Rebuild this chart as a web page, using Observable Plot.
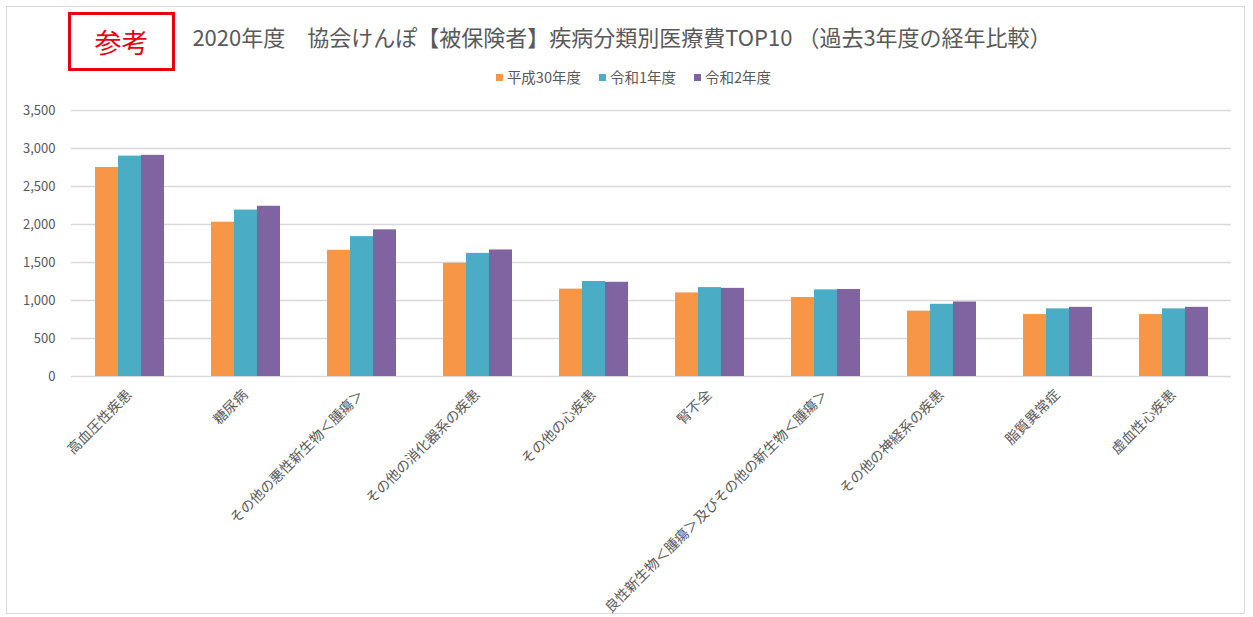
<!DOCTYPE html>
<html>
<head>
<meta charset="utf-8">
<script src="https://cdn.jsdelivr.net/npm/d3@7"></script>
<script src="https://cdn.jsdelivr.net/npm/@observablehq/plot@0.6"></script>
<style>
  html, body { margin: 0; padding: 0; background: #fff; }
  body { width: 1253px; height: 617px; position: relative; overflow: hidden;
         font-family: "Noto Sans CJK JP", "Noto Sans", sans-serif; }
  #frame { position: absolute; left: 6px; top: 6px; width: 1239px; height: 608px;
           border: 1px solid #d9d9d9; box-sizing: border-box; }
  #badge { position: absolute; left: 68px; top: 12px; width: 107px; height: 59px;
           border: 3px solid #e60012; box-sizing: border-box; color: #e60012;
           font-size: 27px; line-height: 53px; text-align: center; }
  #title { position: absolute; left: 182px; top: 21px; width: 880px; text-align: center;
           font-size: 22px; color: #595959; white-space: pre; line-height: 30px; }
  #legend { position: absolute; left: 0; top: 68px; width: 1253px; text-align: center;
            font-size: 14.5px; color: #595959; line-height: 18px; padding-left: 14px; box-sizing: border-box; }
  #legend span.item { display: inline-block; margin: 0 9px; }
  #legend span.sw { display: inline-block; width: 7px; height: 7px; margin-right: 4px; vertical-align: 2px; }
  #chart { position: absolute; left: 0; top: 90px; }
  #chart svg g[aria-label^="fx-axis"] text { font-size: 14px; }
</style>
</head>
<body>
<div id="frame"></div>
<div id="badge">参考</div>
<div id="title"></div>
<div id="legend"></div>
<div id="chart"></div>
<script>
const titleText = "2020年度　協会けんぽ【被保険者】疾病分類別医療費TOP10 （過去3年度の経年比較）";
const badgeText = "参考";
const categories = [
  "高血圧性疾患",
  "糖尿病",
  "その他の悪性新生物＜腫瘍＞",
  "その他の消化器系の疾患",
  "その他の心疾患",
  "腎不全",
  "良性新生物＜腫瘍＞及びその他の新生物＜腫瘍＞",
  "その他の神経系の疾患",
  "脂質異常症",
  "虚血性心疾患"
];
const seriesNames = ["平成30年度", "令和1年度", "令和2年度"];
const valuesH30 = [2750, 2030, 1660, 1490, 1150, 1100, 1040, 860, 815, 815];
const valuesR1  = [2900, 2190, 1840, 1620, 1250, 1170, 1140, 950, 890, 890];
const valuesR2  = [2910, 2240, 1930, 1665, 1240, 1160, 1145, 980, 910, 910];
const seriesColors = ["#F79646", "#4BACC6", "#8064A2"];
const yTicks = [0, 500, 1000, 1500, 2000, 2500, 3000, 3500];

document.getElementById("title").textContent = titleText;
document.getElementById("badge").textContent = badgeText;

const legend = document.getElementById("legend");
seriesNames.forEach((s, i) => {
  const item = document.createElement("span");
  item.className = "item";
  const sw = document.createElement("span");
  sw.className = "sw";
  sw.style.background = seriesColors[i];
  item.appendChild(sw);
  item.appendChild(document.createTextNode(s));
  legend.appendChild(item);
});

const allSeries = [valuesH30, valuesR1, valuesR2];
const data = [];
categories.forEach((c, ci) => {
  seriesNames.forEach((s, si) => {
    data.push({category: c, series: s, value: allSeries[si][ci]});
  });
});

const chart = Plot.plot({
  width: 1253,
  height: 527,
  marginTop: 20,
  marginBottom: 241,
  marginLeft: 68,
  marginRight: 19,
  style: {
    fontFamily: "'Noto Sans CJK JP', 'Noto Sans', sans-serif",
    fontSize: "13px",
    color: "#595959",
    background: "transparent"
  },
  fx: {domain: categories, padding: 0, label: null, axis: "bottom",
       tickRotate: -45, tickSize: 0, tickPadding: 16},
  x: {domain: seriesNames, axis: null, paddingInner: 0, paddingOuter: 1.0},
  y: {domain: [0, 3500], ticks: yTicks, tickSize: 0, tickPadding: 16,
      tickFormat: d3.format(","), label: null},
  color: {domain: seriesNames, range: seriesColors},
  marks: [
    Plot.gridY(yTicks, {stroke: "#d9d9d9", strokeOpacity: 1, strokeWidth: 1.3}),
    Plot.barY(data, {fx: "category", x: "series", y: "value", fill: "series"})
  ]
});
document.getElementById("chart").appendChild(chart);
</script>
</body>
</html>
